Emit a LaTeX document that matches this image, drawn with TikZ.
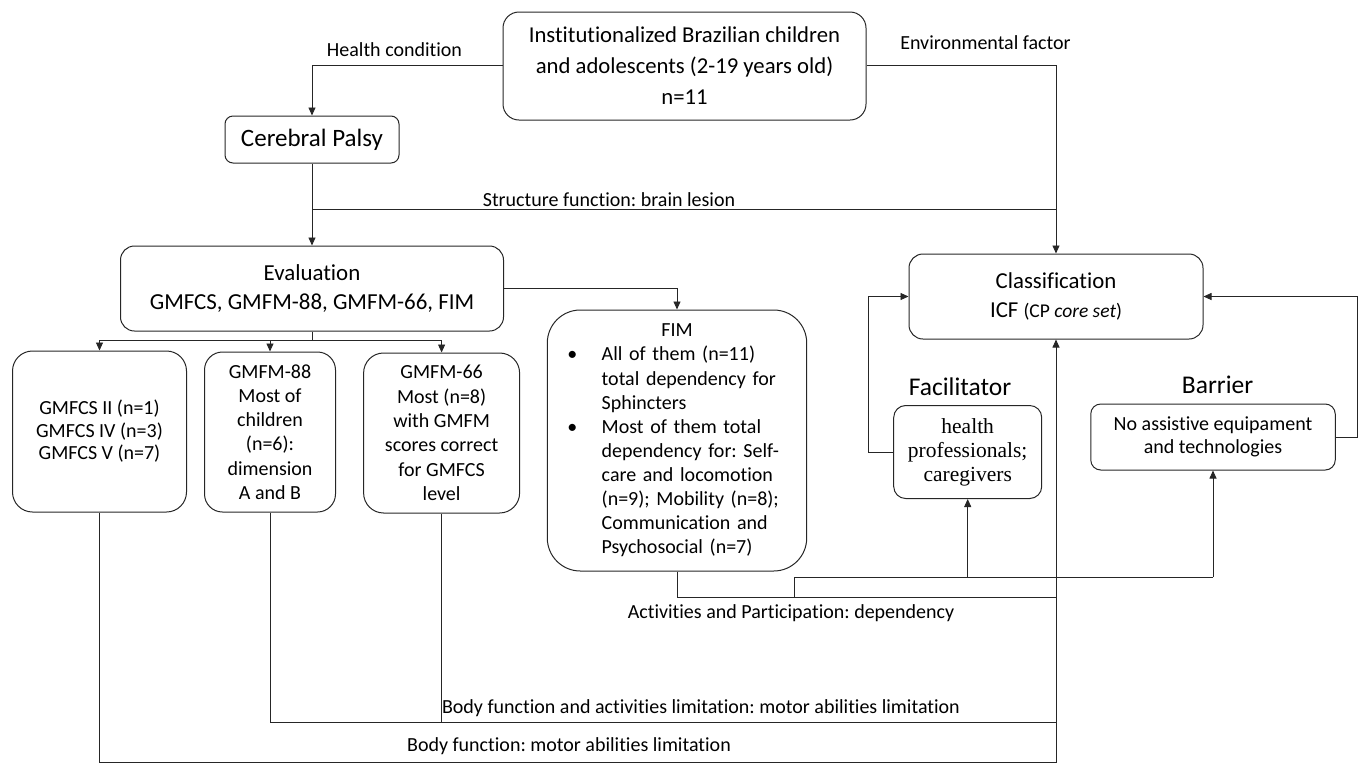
\documentclass[tikz,border=0pt]{standalone}
\usepackage{fontspec}
\setmainfont{Carlito}[Ligatures=NoCommon]
\newfontfamily\serifbox{Liberation Serif}
\usetikzlibrary{arrows.meta}
\frenchspacing
\begin{document}
\begin{tikzpicture}[x=1pt,y=-1pt,
  box/.style={draw=black!85,line width=1pt,inner sep=0pt,align=center,rounded corners=#1},
  box/.default=12pt,
  conn/.style={draw=black!85,line width=0.9pt},
  arr/.style={conn,-{Triangle[length=8pt,width=7pt]}},
  lbl/.style={inner sep=0pt,font=\fontsize{20}{24}\selectfont},
  mid/.style={font=\fontsize{20}{24.3}\selectfont}]
\useasboundingbox (0,0) rectangle (1358,764);

% boxes
\node[box=16pt,minimum width=363pt,minimum height=108pt,font=\fontsize{22.7}{31}\selectfont] (top) at (684.5,66)
  {Institutionalized Brazilian children\\and adolescents (2-19 years old)\\n=11};
\node[box=8pt,minimum width=174pt,minimum height=47pt,font=\fontsize{25}{30}\selectfont] (cp) at (312,139.5) {Cerebral Palsy};
\node[box=14pt,minimum width=383pt,minimum height=85pt,font=\fontsize{22.9}{28.7}\selectfont] (eval) at (312,288.5)
  {Evaluation\\GMFCS, GMFM-88, GMFM-66, FIM};
\node[box=14pt,minimum width=294pt,minimum height=85pt,font=\fontsize{22.8}{29}\selectfont] (class) at (1056,296.5)
  {Classification\\ICF {\fontsize{19.5}{29}\selectfont(CP \textit{core set})}};

\node[box=20pt,minimum width=174pt,minimum height=161pt,font=\fontsize{20}{22.5}\selectfont] (g1) at (99.5,431.5)
  {GMFCS II (n=1)\\GMFCS IV (n=3)\\GMFCS V (n=7)};
\node[box=18pt,minimum width=131pt,minimum height=160pt,mid] (g2) at (270,432)
  {GMFM-88\\Most of\\children\\(n=6):\\dimension\\A and B};
\node[box=20pt,minimum width=156pt,minimum height=160pt,mid] (g3) at (441.6,433)
  {GMFM-66\\Most (n=8)\\with GMFM\\scores correct\\for GMFCS\\level};
\node[box=33pt,minimum width=259.4pt,minimum height=261pt,text width=259.4pt,align=left,font=\fontsize{20}{24.1}\selectfont] (fim) at (677,440.5)
  {\centering FIM\par
   \raggedright
   \hspace*{20pt}\makebox[34.4pt][l]{\textbullet}All of them (n=11)\par
   \hspace*{54.4pt}total dependency for\par
   \hspace*{54.4pt}Sphincters\par
   \hspace*{20pt}\makebox[34.4pt][l]{\textbullet}Most of them total\par
   \hspace*{54.4pt}dependency for: Self-\par
   \hspace*{54.4pt}care and locomotion\par
   \hspace*{54.4pt}(n=9); Mobility (n=8);\par
   \hspace*{54.4pt}Communication and\par
   \hspace*{54.4pt}Psychosocial (n=7)\par};

\node[box=12pt,minimum width=148pt,minimum height=93pt,font=\serifbox\fontsize{21.5}{24}\selectfont] (fac) at (967.7,452)
  {health\\professionals;\\caregivers};
\node[box=10pt,minimum width=244.5pt,minimum height=66pt,font=\fontsize{20}{23.5}\selectfont] (bar) at (1213,437)
  {No assistive equipament\\and technologies};
\node[inner sep=0pt,font=\fontsize{25.5}{30}\selectfont] (facl) at (960,386.7) {Facilitator};
\node[inner sep=0pt,font=\fontsize{25.5}{30}\selectfont] (barl) at (1217.6,385) {Barrier};

% labels
\node[lbl] (lhc) at (394.5,50) {Health condition};
\node[lbl] (lenv) at (985.5,43) {Environmental factor};
\node[lbl] (lsf) at (609,200) {Structure function: brain lesion};
\node[lbl] (lap) at (791,613) {Activities and Participation: dependency};
\node[lbl] (lbfa) at (701,708) {Body function and activities limitation: motor abilities limitation};
\node[lbl] (lbf) at (569,746) {Body function: motor abilities limitation};

% coordinates
\coordinate (sf) at (312,209);
\coordinate (ej) at (312,340);
\coordinate (bl) at (0,762.5);
\coordinate (ml) at (0,722);
\coordinate (al) at (0,597);
\coordinate (br) at (794,597);
\coordinate (brt) at (794,577);
\coordinate (fl) at (868,0);
\coordinate (rr) at (1357,0);
\coordinate (tl) at (0,65.5);

% connectors
\draw[arr] (tl -| top.west) -| (cp.north);
\draw[arr] (tl -| top.east) -| (class.north);
\draw[arr] (cp.south) -- (eval.north);
\draw[conn] (sf) -- (sf -| class.north);
\draw[arr] (eval.east) -| (fim.north);

\draw[conn] (eval.south) -- (ej);
\draw[conn] (ej -| g1.north) -- (ej -| g3.north);
\draw[arr] (ej -| g1.north) -- (g1.north);
\draw[arr] (ej -| g2.north) -- (g2.north);
\draw[arr] (ej -| g3.north) -- (g3.north);

\draw[conn] (g1.south) |- (bl -| class.south);
\draw[conn] (g2.south) |- (ml -| class.south);
\draw[conn] (g3.south) -- (g3.south |- ml);
\draw[arr] (bl -| class.south) -- (class.south);

\draw[conn] (fim.south) |- (al -| class.south);
\draw[conn] (br) -- (brt) -- (brt -| bar.south);
\draw[arr] (brt -| fac.south) -- (fac.south);
\draw[arr] (brt -| bar.south) -- (bar.south);

\draw[arr] (fac.west) -- (fac.west -| fl) |- (class.west);
\draw[arr] (bar.east) -- (bar.east -| rr) |- (class.east);
\end{tikzpicture}
\end{document}
